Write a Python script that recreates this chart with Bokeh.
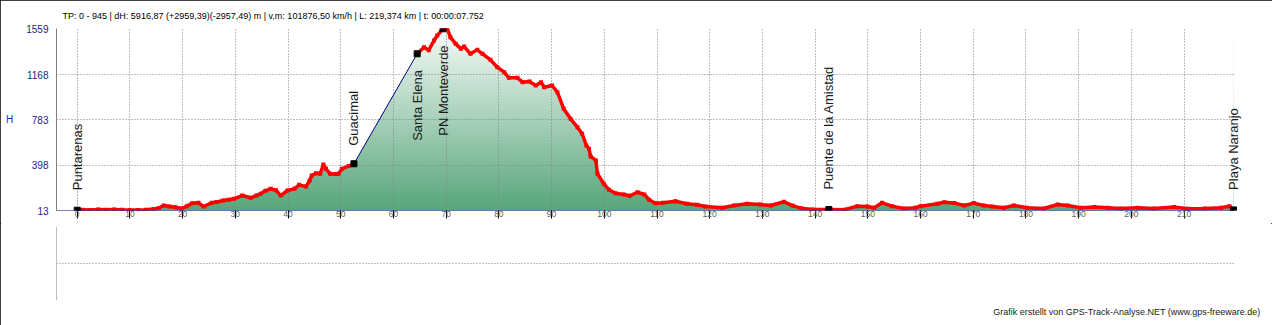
import numpy as np
from bokeh.plotting import figure
from bokeh.layouts import column
from bokeh.models import Range1d, FixedTicker, Label, Title, Span
from bokeh.embed import file_html
from bokeh.resources import INLINE

# ---------------- data ----------------
km = [0.0, 1.0, 2.5, 4.0, 5.5, 7.0, 8.5, 10.0, 11.5, 13.0, 14.5, 15.5, 16.4, 17.5, 18.6,
      19.8, 20.8, 21.8, 23.0, 24.0, 25.5, 26.5, 27.7, 28.7, 29.7, 31.3, 32.9, 34.0, 34.8,
      35.7, 36.7, 37.7, 38.6, 39.9, 41.2, 42.1, 43.4, 44.1, 44.5, 45.3, 46.1, 46.7, 47.2,
      48.0, 49.0, 49.6, 50.2, 51.5, 52.5,
      64.5, 65.8, 66.7, 67.7, 68.3, 69.4, 70.2, 70.8, 71.8, 72.8, 73.4, 74.6, 75.9, 76.9,
      78.4, 79.7, 81.0, 81.9, 83.5, 84.5, 85.8, 87.0, 88.0, 88.6, 90.1, 91.1, 92.3, 93.6,
      94.9, 95.8, 96.6, 97.1, 97.4, 98.4, 98.7, 99.9, 100.9, 102.1, 103.7, 104.8, 106.3,
      107.6, 108.5, 109.7, 111.1, 113.5, 115.7, 117.6, 119.2, 122.4, 124.6, 127.1, 129.6,
      131.6, 134.1, 135.7, 137.3, 139.5, 142.6, 145.5, 148.0, 149.9, 151.2, 152.7, 154.6,
      156.8, 159.0, 160.0, 163.2, 164.5, 166.4, 168.3, 170.1, 172.0, 173.6, 175.8, 177.7,
      180.2, 183.4, 186.0, 187.9, 190.4, 193.0, 195.5, 198.0, 201.2, 204.3, 208.1, 210.7,
      213.9, 217.0, 218.6, 219.374]
ele = [15, 20, 18, 22, 20, 22, 19, 18, 17, 20, 25, 35, 55, 48, 41,
       30, 50, 75, 78, 47, 78, 85, 98, 105, 112, 140, 121, 140, 155,
       180, 197, 185, 140, 183, 197, 231, 216, 268, 310, 330, 325, 404, 367,
       325, 322, 325, 367, 390, 410,
       1344, 1400, 1375, 1457, 1499, 1557, 1559, 1485, 1429, 1386, 1406, 1344, 1378, 1344,
       1293, 1230, 1188, 1140, 1140, 1103, 1109, 1075, 1103, 1060, 1075, 1018, 877, 792,
       721, 665, 565, 537, 472, 438, 325, 240, 189, 160, 149, 138, 168,
       149, 104, 75, 79, 92, 70, 62, 47, 36, 55, 70, 64,
       55, 87, 55, 33, 21, 21, 19, 50, 47, 36, 78, 50,
       30, 36, 50, 70, 84, 76, 56, 76, 56, 47, 36, 56,
       36, 30, 64, 56, 36, 42, 36, 30, 36, 30, 42, 27,
       30, 36, 50, 18]

wp_names = ["Puntarenas", "Guacimal", "Santa Elena", "PN Monteverde",
            "Puente de la Amistad", "Playa Naranjo"]
wp_km = [0.0, 52.5, 64.5, 69.4, 142.6, 219.374]
wp_ele = [15, 410, 1344, 1557, 21, 18]

x_ticks = list(range(0, 220, 10))
y_ticks = [13, 398, 783, 1168, 1559]

header = ("TP: 0 - 945 | dH: 5916,87  (+2959,39)(-2957,49) m | v,m: 101876,50 km/h "
          "| L: 219,374 km | t: 00:00:07.752")
footer = "Grafik erstellt von GPS-Track-Analyse.NET (www.gps-freeware.de)"
y_name = "H"

# ---------------- layout constants ----------------
FONT = "Arial"
W = 1272
LEFT = 56
PLOT_RIGHT_PX = 1233          # where the track and the grid lines end
FRAME_RIGHT_PX = 1243         # frames a bit wider so the last name is not cut
TOP1, FRAME1_H, BOTTOM1 = 28, 182, 13
X0 = -3.93
X_END = km[-1]
px_per_km = (PLOT_RIGHT_PX - LEFT) / (X_END - X0)
X1 = X0 + (FRAME_RIGHT_PX - LEFT) / px_per_km
Y0, Y1 = y_ticks[0], y_ticks[-1]
u_per_px = (Y1 - Y0) / FRAME1_H


def limit_grid(g):
    try:
        g.cross_bounds = (X0, X_END)
    except Exception:
        pass


# ---------------- main figure ----------------
p1 = figure(width=W, height=TOP1 + FRAME1_H + BOTTOM1,
            x_range=Range1d(X0, X1), y_range=Range1d(Y0, Y1),
            output_backend="svg", toolbar_location=None,
            min_border_left=LEFT, min_border_right=W - FRAME_RIGHT_PX,
            min_border_top=TOP1, min_border_bottom=BOTTOM1,
            background_fill_color="white", border_fill_color="white",
            outline_line_color=None)

p1.title.text = header
p1.title.align = "left"
p1.title.offset = 6
p1.title.standoff = 16
p1.title.text_font = FONT
p1.title.text_font_size = "9px"
p1.title.text_font_style = "normal"
p1.title.text_color = "black"

# gradient fill under the profile: gradient image masked by white area above the curve
n = 256
t = np.linspace(0.0, 1.0, n)[:, None]
c_bot = np.array([88, 166, 124])
c_top = np.array([247, 251, 249])
cols = (c_bot * (1 - t) + c_top * t).astype(np.uint8)
img = np.zeros((n, 1), dtype=np.uint32)
view = img.view(dtype=np.uint8).reshape((n, 1, 4))
view[:, 0, 0] = cols[:, 0]
view[:, 0, 1] = cols[:, 1]
view[:, 0, 2] = cols[:, 2]
view[:, 0, 3] = 255
p1.image_rgba(image=[img], x=km[0], y=Y0, dw=km[-1] - km[0], dh=Y1 - Y0, level="image")
p1.varea(x=km, y1=ele, y2=Y1, fill_color="white", level="image")

# profile lines
p1.line(km, ele, line_color="#000080", line_width=1)
km_arr = np.array(km, dtype=float)
ele_arr = np.array(ele, dtype=float)
rk, re_ = [km_arr[0]], [ele_arr[0]]
for i in range(1, len(km_arr)):
    if km_arr[i] - km_arr[i - 1] > 5:
        rk.append(np.nan)
        re_.append(np.nan)
    rk.append(km_arr[i])
    re_.append(ele_arr[i])
p1.line(rk, re_, line_color="#ff0000", line_width=3.5)
p1.scatter(km, ele, marker="square", size=4, fill_color="#ff0000", line_color=None)

# waypoints
p1.scatter(wp_km, wp_ele, marker="square", size=6, fill_color="black", line_color="black")
lift_px = [20, 18, -87, -107, 20, 20]
for name, xk, e, l in zip(wp_names, wp_km, wp_ele, lift_px):
    p1.add_layout(Label(x=xk, y=e + l * u_per_px, text=name, angle=90, angle_units="deg",
                        text_align="left", text_baseline="middle", text_font=FONT,
                        text_font_size="13px", text_color="#1a1a1a"))

# axes
ya = p1.yaxis[0]
ya.ticker = FixedTicker(ticks=y_ticks)
ya.bounds = (Y0, Y1)
ya.major_tick_out = 0
ya.major_tick_in = 0
ya.minor_tick_out = 0
ya.minor_tick_in = 0
ya.axis_line_color = "#808080"
ya.major_label_standoff = 8
ya.major_label_text_font = FONT
ya.major_label_text_font_size = "10px"
ya.major_label_text_color = "#1c1c8c"
ya.axis_label = y_name
ya.axis_label_standoff = 10
ya.axis_label_text_font = FONT
ya.axis_label_text_font_size = "10px"
ya.axis_label_text_font_style = "normal"
ya.axis_label_text_color = "#2828c0"
try:
    ya.axis_label_orientation = "horizontal"
except Exception:
    pass

xa = p1.xaxis[0]
xa.ticker = FixedTicker(ticks=x_ticks)
xa.bounds = (X0, X_END)
xa.major_tick_out = 8
xa.major_tick_in = 0
xa.minor_tick_out = 0
xa.minor_tick_in = 0
xa.major_tick_line_color = "black"
xa.axis_line_color = "#000080"
xa.axis_line_dash = "1 1"
xa.major_label_standoff = -8
xa.major_label_text_align = "left"
xa.major_label_text_font = FONT
xa.major_label_text_font_size = "8.5px"
xa.major_label_text_color = "#606060"

for g in (p1.xgrid[0], p1.ygrid[0]):
    g.grid_line_color = "#808080"
    g.grid_line_dash = "1 2"
    g.grid_line_width = 1
limit_grid(p1.ygrid[0])

# ---------------- lower (empty) panel ----------------
TOP2, FRAME2_H, BOTTOM2 = 3, 74, 25
p2 = figure(width=W, height=TOP2 + FRAME2_H + BOTTOM2,
            x_range=Range1d(X0, X1), y_range=Range1d(0, 2),
            output_backend="svg", toolbar_location=None,
            min_border_left=LEFT, min_border_right=W - FRAME_RIGHT_PX,
            min_border_top=TOP2, min_border_bottom=BOTTOM2,
            background_fill_color="white", border_fill_color="white",
            outline_line_color=None)
p2.xaxis.visible = False
p2.yaxis.visible = False
p2.xgrid.visible = False
g2 = p2.ygrid[0]
g2.ticker = FixedTicker(ticks=[0, 1, 2])
g2.grid_line_color = "#808080"
g2.grid_line_dash = "1 2"
limit_grid(g2)
p2.add_layout(Span(location=X0, dimension="height", line_color="#808080", line_width=1))

p2.add_layout(Title(text=footer, align="right", offset=-(1260 - FRAME_RIGHT_PX), standoff=9,
                    text_font=FONT, text_font_size="9px", text_font_style="normal",
                    text_color="#202020"),
              "below")

layout = column(p1, p2, spacing=0,
                styles={"outline": "1px solid black", "outline-offset": "-1px"})

open("out.html", "w").write(file_html(layout, INLINE))
